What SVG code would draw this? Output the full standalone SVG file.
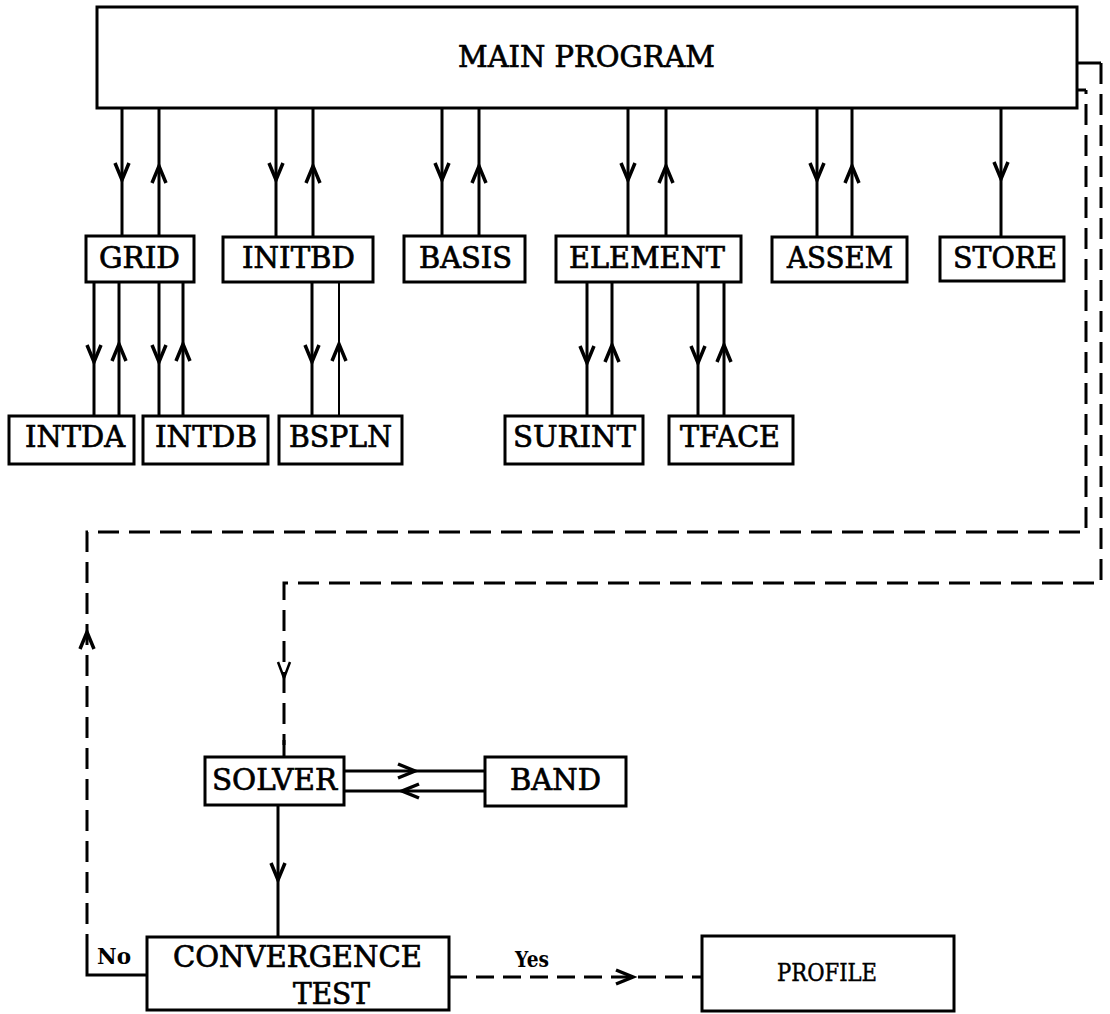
<svg xmlns="http://www.w3.org/2000/svg" width="1110" height="1014" viewBox="0 0 1110 1014">
<style>
.box{fill:#fff;stroke:#000;stroke-width:3}
.t{font-family:"DejaVu Serif","Liberation Serif",serif;font-size:29px;fill:#000;stroke:#000;stroke-width:0.7}
.s{font-family:"DejaVu Serif","Liberation Serif",serif;font-size:23px;font-weight:bold;fill:#000}
.ln{fill:none;stroke:#000;stroke-width:3}
.thin{fill:none;stroke:#000;stroke-width:2}
.dash{fill:none;stroke:#000;stroke-width:3;stroke-dasharray:21 10}
.ydash{fill:none;stroke:#000;stroke-width:3;stroke-dasharray:18 9}
.am{marker-mid:url(#arr)}
.ae{fill:none;stroke:none;marker-end:url(#arr)}
.aet{fill:none;stroke:none;marker-end:url(#arrt)}
</style>
<defs>
<marker id="arr" markerUnits="userSpaceOnUse" viewBox="-22 -10 26 20" refX="0" refY="0" markerWidth="26" markerHeight="20" orient="auto" overflow="visible">
<path d="M-17,-7 L0,0 L-17,7" fill="none" stroke="#000" stroke-width="3.5"/>
</marker>
<marker id="arrt" markerUnits="userSpaceOnUse" viewBox="-22 -10 26 20" refX="0" refY="0" markerWidth="26" markerHeight="20" orient="auto" overflow="visible">
<path d="M-16,-6 L0,0 L-16,6" fill="none" stroke="#000" stroke-width="2.5"/>
</marker>
</defs>

<g id="connectors">
<path class="ln am" d="M122,108 L122,180 L122,236"/>
<path class="ln am" d="M159,236 L159,166 L159,108"/>
<path class="ln am" d="M276,108 L276,180 L276,237"/>
<path class="ln am" d="M313,237 L313,166 L313,108"/>
<path class="ln am" d="M442,108 L442,180 L442,236"/>
<path class="ln am" d="M479,236 L479,166 L479,108"/>
<path class="ln am" d="M628,108 L628,180 L628,236"/>
<path class="ln am" d="M666,236 L666,166 L666,108"/>
<path class="ln am" d="M817,108 L817,180 L817,237"/>
<path class="ln am" d="M852,237 L852,166 L852,108"/>
<path class="ln am" d="M1001,108 L1001,179 L1001,237"/>
<path class="ln am" d="M94,282 L94,362 L94,416"/>
<path class="ln am" d="M119,416 L119,344 L119,282"/>
<path class="ln am" d="M159,282 L159,362 L159,416"/>
<path class="ln am" d="M183,416 L183,344 L183,282"/>
<path class="ln am" d="M312,282 L312,362 L312,416"/>
<path class="thin am" d="M339,416 L339,344 L339,282"/>
<path class="ln am" d="M587,282 L587,363 L587,416"/>
<path class="ln am" d="M612,416 L612,345 L612,282"/>
<path class="ln am" d="M698,282 L698,363 L698,416"/>
<path class="ln am" d="M724,416 L724,345 L724,282"/>
<path class="ln am" d="M344,771 L415,771 L485,771"/>
<path class="ln am" d="M485,791 L402,791 L344,791"/>
<path class="ln am" d="M278,805 L278,880 L278,937"/>
<path class="ln" d="M1077,63 H1101"/>
<path class="dash" d="M1101,63 V583 H284 V745"/>
<path class="ln" d="M284,740 V757"/>
<path class="aet" d="M284,660 L284,678"/>
<path class="ln" d="M147,975 H87 V955"/>
<path class="dash" d="M87,955 V532 H1086 V90"/>
<path class="ln" d="M1086,90 H1077"/>
<path class="ae" d="M87,650 L87,632"/>
<path class="ydash" d="M449,977 H702"/>
<path class="ae" d="M615,977 L633,977"/>
</g>

<g id="main"><rect class="box" x="97" y="7" width="980" height="101"/><text class="t" x="458" y="67" textLength="257" lengthAdjust="spacingAndGlyphs">MAIN PROGRAM</text></g>
<g id="grid"><rect class="box" x="86" y="236" width="108" height="46"/><text class="t" x="99" y="268" textLength="81" lengthAdjust="spacingAndGlyphs">GRID</text></g>
<g id="initbd"><rect class="box" x="223" y="237" width="150" height="45"/><text class="t" x="242" y="268" textLength="113" lengthAdjust="spacingAndGlyphs">INITBD</text></g>
<g id="basis"><rect class="box" x="404" y="236" width="121" height="46"/><text class="t" x="419" y="268" textLength="93" lengthAdjust="spacingAndGlyphs">BASIS</text></g>
<g id="element"><rect class="box" x="556" y="236" width="185" height="46"/><text class="t" x="569" y="268" textLength="156" lengthAdjust="spacingAndGlyphs">ELEMENT</text></g>
<g id="assem"><rect class="box" x="772" y="237" width="135" height="45"/><text class="t" x="787" y="268" textLength="106" lengthAdjust="spacingAndGlyphs">ASSEM</text></g>
<g id="store"><rect class="box" x="940" y="237" width="124" height="44"/><text class="t" x="953" y="268" textLength="104" lengthAdjust="spacingAndGlyphs">STORE</text></g>
<g id="intda"><rect class="box" x="9" y="416" width="125" height="48"/><text class="t" x="25" y="447" textLength="100" lengthAdjust="spacingAndGlyphs">INTDA</text></g>
<g id="intdb"><rect class="box" x="143" y="416" width="125" height="48"/><text class="t" x="155" y="447" textLength="102" lengthAdjust="spacingAndGlyphs">INTDB</text></g>
<g id="bspln"><rect class="box" x="279" y="416" width="123" height="48"/><text class="t" x="289" y="447" textLength="103" lengthAdjust="spacingAndGlyphs">BSPLN</text></g>
<g id="surint"><rect class="box" x="505" y="416" width="138" height="48"/><text class="t" x="513" y="447" textLength="123" lengthAdjust="spacingAndGlyphs">SURINT</text></g>
<g id="tface"><rect class="box" x="669" y="416" width="124" height="48"/><text class="t" x="680" y="447" textLength="100" lengthAdjust="spacingAndGlyphs">TFACE</text></g>
<g id="solver"><rect class="box" x="205" y="757" width="139" height="48"/><text class="t" x="212" y="790" textLength="125" lengthAdjust="spacingAndGlyphs">SOLVER</text></g>
<g id="band"><rect class="box" x="485" y="757" width="141" height="49"/><text class="t" x="510" y="790" textLength="91" lengthAdjust="spacingAndGlyphs">BAND</text></g>
<g id="convergence"><rect class="box" x="147" y="937" width="302" height="73"/><text class="t" x="173" y="967" textLength="249" lengthAdjust="spacingAndGlyphs">CONVERGENCE</text><text class="t" x="293" y="1004" textLength="77" lengthAdjust="spacingAndGlyphs">TEST</text></g>
<g id="profile"><rect class="box" x="702" y="936" width="252" height="75"/><text class="t" x="777" y="981" style="font-size:25px;stroke-width:0.5" textLength="100" lengthAdjust="spacingAndGlyphs">PROFILE</text></g>
<g id="labels"><text class="s" x="97" y="964" textLength="34" lengthAdjust="spacingAndGlyphs">No</text><text class="s" x="515" y="967" textLength="34" lengthAdjust="spacingAndGlyphs">Yes</text></g>
</svg>
